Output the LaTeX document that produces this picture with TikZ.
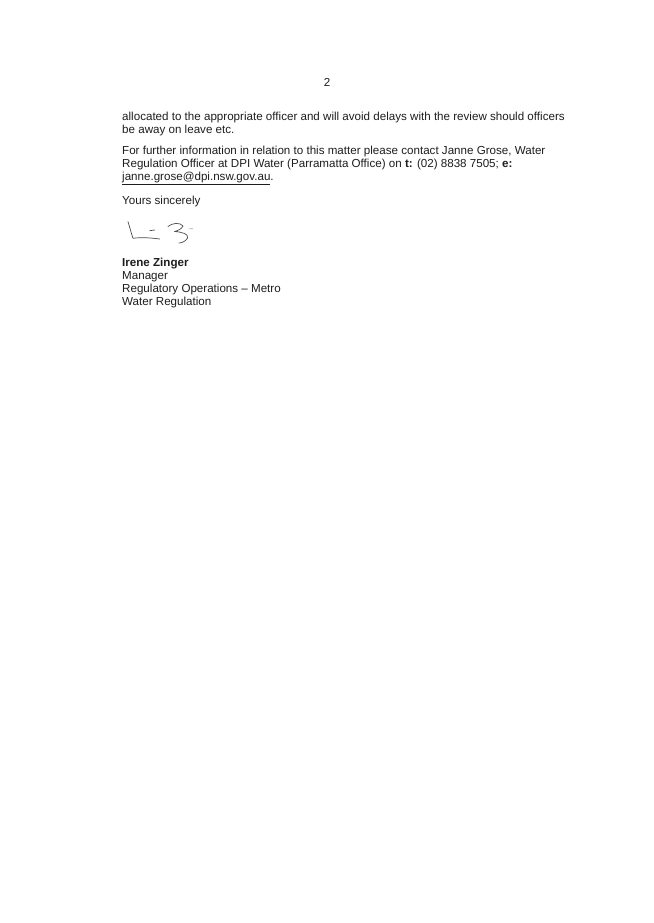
\documentclass[tikz,border=0pt]{standalone}
\usepackage{fontspec}
\setmainfont{Liberation Sans}
\usetikzlibrary{positioning}

\definecolor{ink}{RGB}{30,30,30}
\tikzstyle{para} = [anchor=base west, inner sep=0pt, text=ink, font=\fontsize{11.6}{13}\selectfont]
\tikzstyle{sign} = [draw=ink!80, line width=0.7pt, line cap=round, line join=round]

\begin{document}
\begin{tikzpicture}[x=1pt, y=-1pt]
        \useasboundingbox[fill=white] (0,0) rectangle (653,923);
        % page number
        \node (pg) at (327,87) [para, anchor=base] {2};
        % body of the letter
        \node (l1) at (122,121) [para] {allocated to the appropriate officer and will avoid delays with the review should officers};
        \node (l2) at (122,134) [para] {be away on leave etc.};
        \node (l3) at (122,154) [para] {For further information in relation to this matter please contact Janne Grose, Water};
        \node (l4) at (122,167) [para] {Regulation Officer at DPI Water (Parramatta Office) on \textbf{t:} (02) 8838 7505; \textbf{e:}};
        \node (l5) at (122,180) [para] {\underline{janne.grose@dpi.nsw.gov.au}.};
        \node (l6) at (122,204) [para] {Yours sincerely};
        % signature
        \draw[sign] (128,221.7) .. controls (130,228) and (131.5,234) .. (133,238.3) .. controls (142,237) and (152,238) .. (159.7,239);
        \draw[sign] (149.7,230.7) -- (154.7,230);
        \draw[sign] (168,226.5) .. controls (172,223) and (180,222) .. (183,226) .. controls (182,229) and (177,231) .. (174.5,231.5) .. controls (182,232) and (189,234) .. (187.5,238) .. controls (186,241) and (182,243) .. (179,243);
        \draw[sign, line width=0.4pt, ink!50] (188.5,229) -- (193,228.5);
        % name and position
        \node (l7) at (122,266) [para] {\textbf{Irene Zinger}};
        \node (l8) at (122,279) [para] {Manager};
        \node (l9) at (122,292) [para] {Regulatory Operations -- Metro};
        \node (l10) at (122,305) [para] {Water Regulation};
\end{tikzpicture}
\end{document}
